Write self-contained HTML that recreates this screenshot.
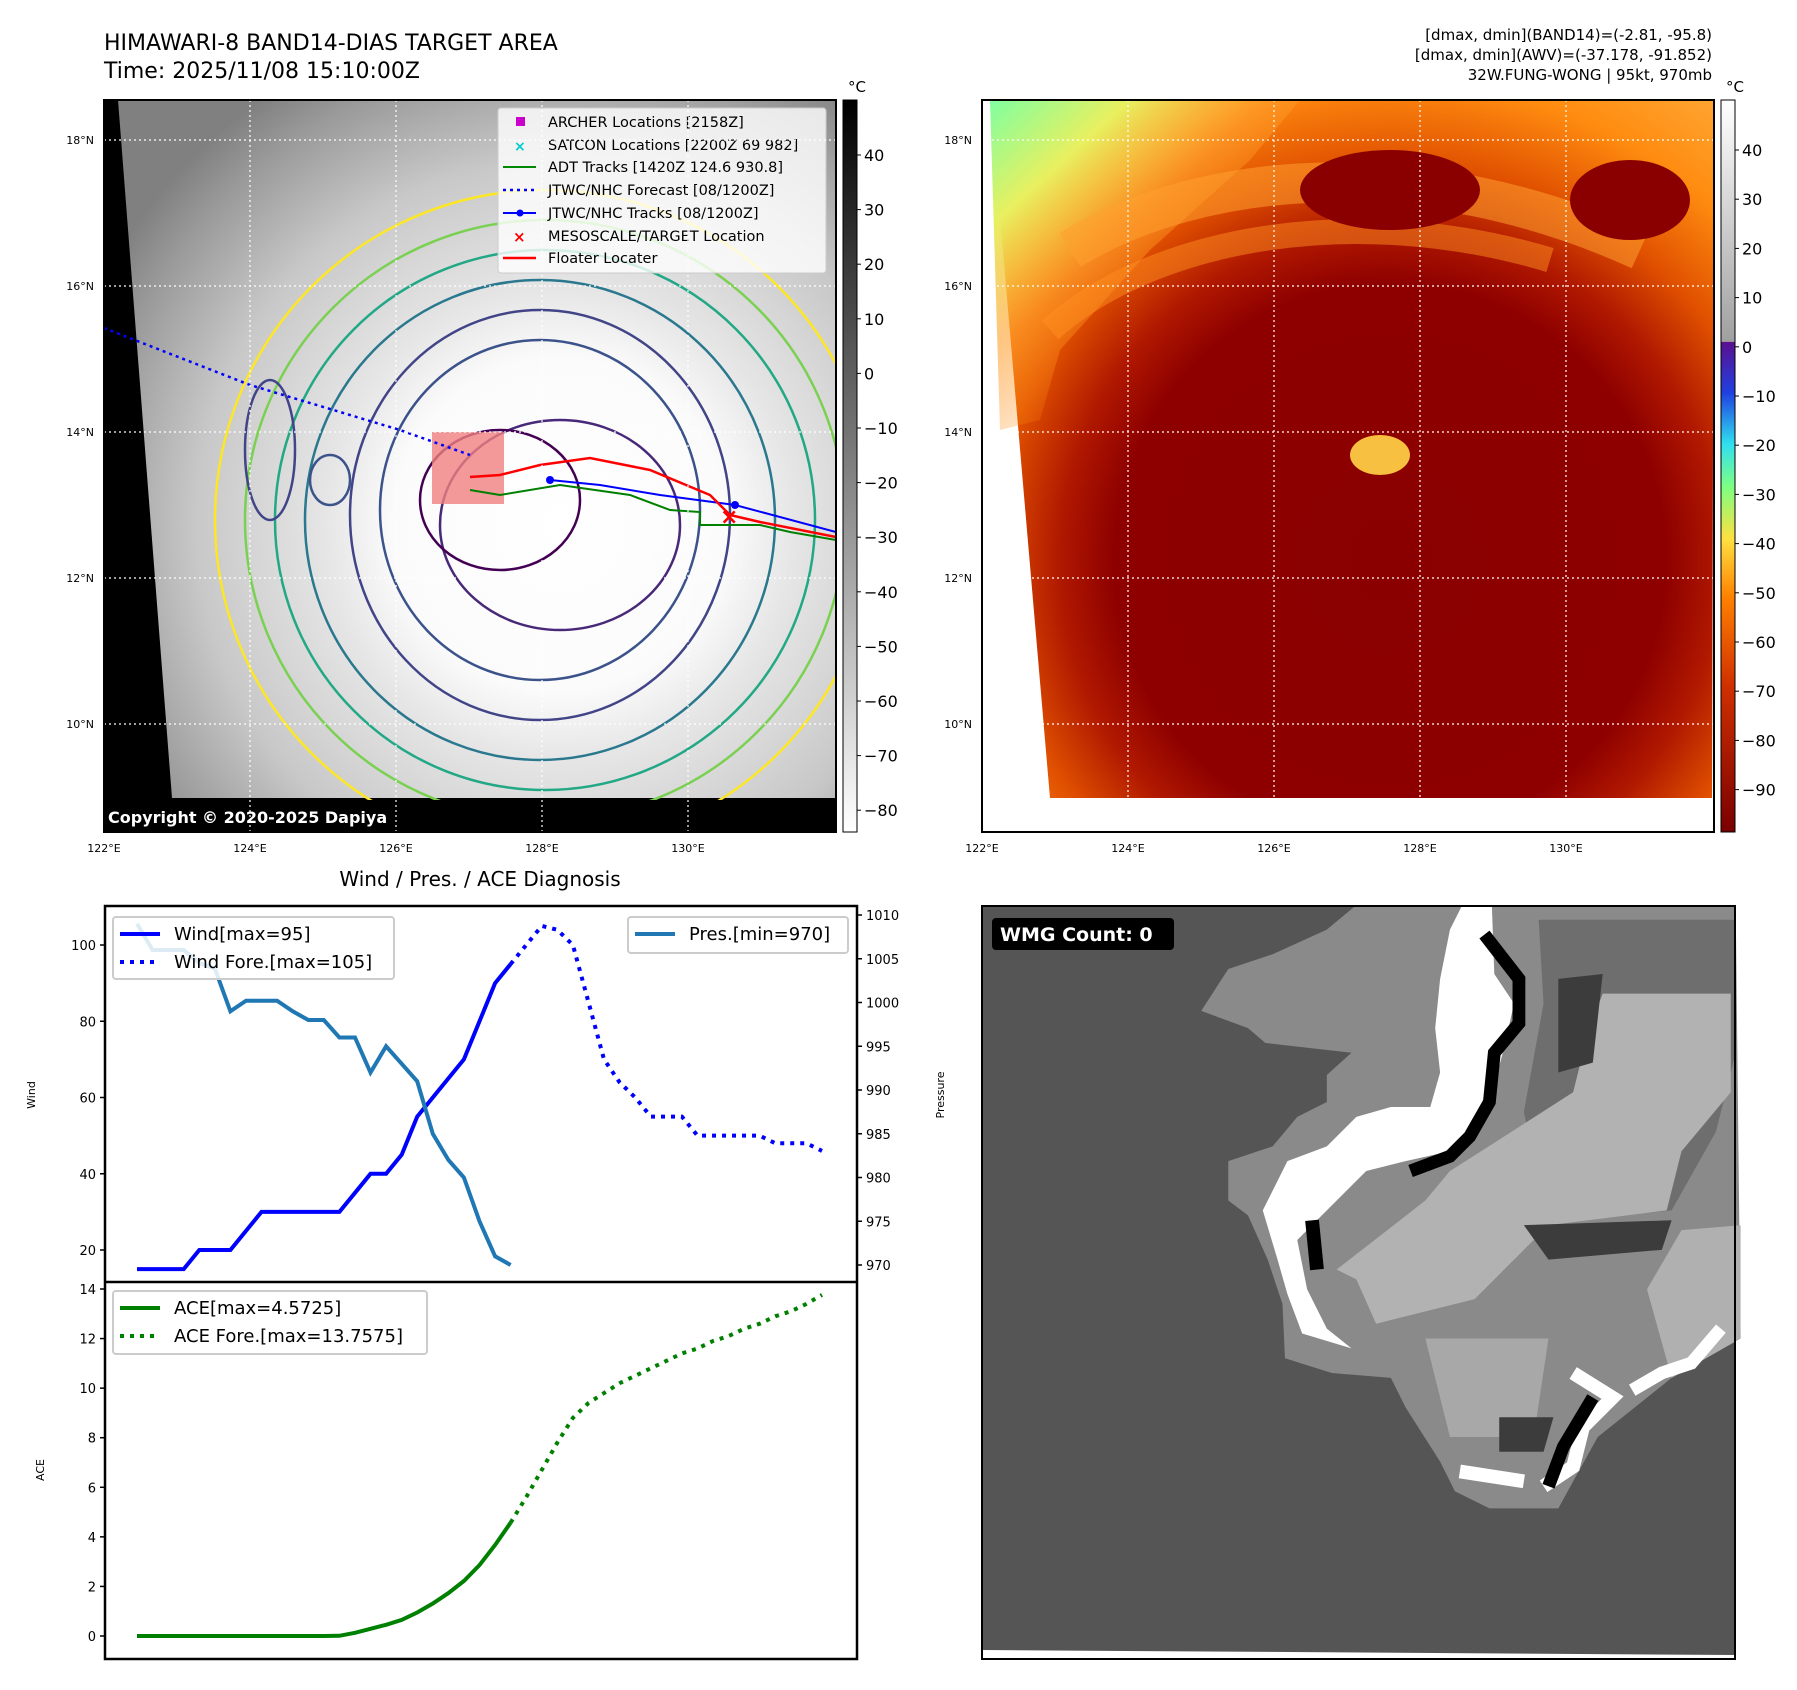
<!DOCTYPE html>
<html><head><meta charset="utf-8">
<style>
body{margin:0;background:#fff;font-family:"Liberation Sans","DejaVu Sans",sans-serif}
svg{display:block}
text{font-family:"DejaVu Sans","Liberation Sans",sans-serif}
</style></head>
<body>
<svg id="fig" width="1797" height="1690" viewBox="0 0 1797 1690" xmlns="http://www.w3.org/2000/svg">
<defs>
 <radialGradient id="irgrey" cx="560" cy="525" r="520" gradientUnits="userSpaceOnUse">
  <stop offset="0" stop-color="#ffffff"/><stop offset="0.32" stop-color="#fbfbfb"/>
  <stop offset="0.45" stop-color="#e6e6e6"/><stop offset="0.7" stop-color="#c8c8c8"/>
  <stop offset="0.9" stop-color="#9a9a9a"/><stop offset="1" stop-color="#808080"/>
 </radialGradient>
 <radialGradient id="irhot" cx="1390" cy="560" r="600" gradientUnits="userSpaceOnUse">
  <stop offset="0" stop-color="#8a0000"/><stop offset="0.46" stop-color="#8e0000"/>
  <stop offset="0.55" stop-color="#b01800"/><stop offset="0.66" stop-color="#e05000"/>
  <stop offset="0.8" stop-color="#ff8c10"/><stop offset="1" stop-color="#ffb040"/>
 </radialGradient>
 <linearGradient id="corner" x1="990" y1="100" x2="1200" y2="330" gradientUnits="userSpaceOnUse">
  <stop offset="0" stop-color="#7fffa0"/><stop offset="0.3" stop-color="#e8f060"/><stop offset="0.6" stop-color="#ffa030" stop-opacity="0.6"/><stop offset="1" stop-color="#ff8000" stop-opacity="0"/>
 </linearGradient>
 <linearGradient id="cbgrey" x1="0" y1="0" x2="0" y2="1">
  <stop offset="0" stop-color="#000"/><stop offset="1" stop-color="#fff"/>
 </linearGradient>
 <linearGradient id="cbhot" x1="0" y1="0" x2="0" y2="1">
  <stop offset="0" stop-color="#ffffff"/><stop offset="0.33" stop-color="#a0a0a0"/>
  <stop offset="0.331" stop-color="#5a1090"/><stop offset="0.4" stop-color="#2040e0"/>
  <stop offset="0.47" stop-color="#30e0f0"/><stop offset="0.53" stop-color="#80ff80"/>
  <stop offset="0.6" stop-color="#ffe040"/><stop offset="0.68" stop-color="#ff8000"/>
  <stop offset="0.8" stop-color="#d03000"/><stop offset="1" stop-color="#7a0000"/>
 </linearGradient>
 <clipPath id="clipL"><rect x="104" y="100" width="732" height="732"/></clipPath>
 <clipPath id="clipR"><rect x="982" y="100" width="732" height="732"/></clipPath>
</defs>

<!-- titles -->
<text x="104" y="50" font-size="22">HIMAWARI-8 BAND14-DIAS TARGET AREA</text>
<text x="104" y="78" font-size="22">Time: 2025/11/08 15:10:00Z</text>
<g font-size="15" text-anchor="end">
 <text x="1712" y="40">[dmax, dmin](BAND14)=(-2.81, -95.8)</text>
 <text x="1712" y="60">[dmax, dmin](AWV)=(-37.178, -91.852)</text>
 <text x="1712" y="80">32W.FUNG-WONG | 95kt, 970mb</text>
</g>

<!-- LEFT MAP -->
<g clip-path="url(#clipL)">
 <rect x="104" y="100" width="732" height="732" fill="#000"/>
 <polygon points="118,100 836,100 836,798 172,798" fill="url(#irgrey)"/>
 <g fill="none" stroke-width="2.5">
  <ellipse cx="545" cy="520" rx="330" ry="330" stroke="#fde725"/>
  <ellipse cx="545" cy="520" rx="300" ry="300" stroke="#7ad151"/>
  <ellipse cx="545" cy="520" rx="270" ry="270" stroke="#22a884"/>
  <ellipse cx="540" cy="520" rx="235" ry="240" stroke="#2a788e"/>
  <ellipse cx="540" cy="515" rx="190" ry="205" stroke="#414487"/>
  <ellipse cx="540" cy="510" rx="160" ry="170" stroke="#3b528b"/>
  <ellipse cx="560" cy="525" rx="120" ry="105" stroke="#482878"/>
  <ellipse cx="500" cy="500" rx="80" ry="70" stroke="#440154"/>
  <ellipse cx="270" cy="450" rx="25" ry="70" stroke="#414487"/>
  <ellipse cx="330" cy="480" rx="20" ry="25" stroke="#3b528b"/>
 </g>
 <rect x="432" y="432" width="72" height="72" fill="#f08080" opacity="0.8"/>
 <polyline points="104,328 250,385 400,430 470,455" fill="none" stroke="#00f" stroke-width="2.5" stroke-dasharray="3,4"/>
 <polyline points="550,480 600,485 660,495 735,505 836,532" fill="none" stroke="#00f" stroke-width="2"/>
 <circle cx="550" cy="480" r="4" fill="#00f"/><circle cx="735" cy="505" r="4" fill="#00f"/>
 <polyline points="470,490 500,495 560,485 630,495 670,510 700,512 700,525 760,525 790,532 836,540" fill="none" stroke="#008000" stroke-width="2"/>
 <polyline points="470,477 500,475 540,465 590,458 650,470 710,495 730,515 760,522 836,537" fill="none" stroke="#f00" stroke-width="2.5"/>
 <text x="720" y="524" fill="#f00" font-size="22" font-weight="bold">×</text>
 <!-- legend -->
 <rect x="498" y="108" width="328" height="165" fill="#fff" fill-opacity="0.8" stroke="#ccc" rx="3"/>
 <g font-size="14.5" fill="#000">
  <rect x="516" y="117" width="9" height="9" fill="#c0c"/><text x="548" y="127">ARCHER Locations [2158Z]</text>
  <text x="514" y="151" fill="#0cc" font-size="14" font-weight="bold">×</text><text x="548" y="150">SATCON Locations [2200Z 69 982]</text>
  <line x1="503" y1="167" x2="536" y2="167" stroke="#080" stroke-width="2"/><text x="548" y="172">ADT Tracks [1420Z 124.6 930.8]</text>
  <line x1="503" y1="190" x2="536" y2="190" stroke="#00f" stroke-width="2.5" stroke-dasharray="3,4"/><text x="548" y="195">JTWC/NHC Forecast [08/1200Z]</text>
  <line x1="503" y1="213" x2="536" y2="213" stroke="#00f" stroke-width="2"/><circle cx="520" cy="213" r="3.5" fill="#00f"/><text x="548" y="218">JTWC/NHC Tracks [08/1200Z]</text>
  <text x="513" y="242" fill="#f00" font-size="15" font-weight="bold">×</text><text x="548" y="241">MESOSCALE/TARGET Location</text>
  <line x1="503" y1="258" x2="536" y2="258" stroke="#f00" stroke-width="2.5"/><text x="548" y="263">Floater Locater</text>
 </g>
 <rect x="104" y="800" width="732" height="32" fill="#000"/>
 <text x="108" y="823" fill="#fff" font-size="16" font-weight="bold">Copyright © 2020-2025 Dapiya</text>
</g>
<g stroke="#fff" stroke-width="1.2" stroke-dasharray="2,3" clip-path="url(#clipL)">
 <line x1="104" y1="140" x2="836" y2="140"/><line x1="104" y1="286" x2="836" y2="286"/><line x1="104" y1="432" x2="836" y2="432"/><line x1="104" y1="578" x2="836" y2="578"/><line x1="104" y1="724" x2="836" y2="724"/>
 <line x1="250" y1="100" x2="250" y2="832"/><line x1="396" y1="100" x2="396" y2="832"/><line x1="542" y1="100" x2="542" y2="832"/><line x1="688" y1="100" x2="688" y2="832"/>
</g>
<rect x="104" y="100" width="732" height="732" fill="none" stroke="#000" stroke-width="2"/>
<g font-size="11">
 <text x="94" y="144" text-anchor="end">18°N</text><text x="94" y="290" text-anchor="end">16°N</text><text x="94" y="436" text-anchor="end">14°N</text><text x="94" y="582" text-anchor="end">12°N</text><text x="94" y="728" text-anchor="end">10°N</text>
 <text x="104" y="852" text-anchor="middle">122°E</text><text x="250" y="852" text-anchor="middle">124°E</text><text x="396" y="852" text-anchor="middle">126°E</text><text x="542" y="852" text-anchor="middle">128°E</text><text x="688" y="852" text-anchor="middle">130°E</text>
</g>
<rect x="843" y="100" width="14" height="732" fill="url(#cbgrey)" stroke="#000"/>
<text x="857" y="92" font-size="15" text-anchor="middle">°C</text>
<g id="cbL" font-size="16"></g>

<!-- RIGHT MAP -->
<g clip-path="url(#clipR)">
 <rect x="982" y="100" width="732" height="732" fill="#fff"/>
 <polygon points="990,100 1714,100 1714,107 1712,798 1050,798" fill="url(#irhot)"/>
 <polygon points="990,100 1300,100 1250,160 1150,250 1060,350 1040,420 1000,430" fill="url(#corner)"/>
 <path d="M1070,250 C1200,170 1420,150 1640,250" fill="none" stroke="#ffa030" stroke-width="40" opacity="0.55"/>
 <path d="M1050,330 C1150,240 1350,200 1550,260" fill="none" stroke="#ff9020" stroke-width="25" opacity="0.5"/>
 <ellipse cx="1390" cy="190" rx="90" ry="40" fill="#8a0000"/>
 <ellipse cx="1630" cy="200" rx="60" ry="40" fill="#8a0000"/>
 <ellipse cx="1380" cy="455" rx="30" ry="20" fill="#f8c040"/>
</g>
<g stroke="#fff" stroke-width="1.2" stroke-dasharray="2,3" clip-path="url(#clipR)">
 <line x1="982" y1="140" x2="1714" y2="140"/><line x1="982" y1="286" x2="1714" y2="286"/><line x1="982" y1="432" x2="1714" y2="432"/><line x1="982" y1="578" x2="1714" y2="578"/><line x1="982" y1="724" x2="1714" y2="724"/>
 <line x1="1128" y1="100" x2="1128" y2="832"/><line x1="1274" y1="100" x2="1274" y2="832"/><line x1="1420" y1="100" x2="1420" y2="832"/><line x1="1566" y1="100" x2="1566" y2="832"/>
</g>
<rect x="982" y="100" width="732" height="732" fill="none" stroke="#000" stroke-width="2"/>
<g font-size="11">
 <text x="972" y="144" text-anchor="end">18°N</text><text x="972" y="290" text-anchor="end">16°N</text><text x="972" y="436" text-anchor="end">14°N</text><text x="972" y="582" text-anchor="end">12°N</text><text x="972" y="728" text-anchor="end">10°N</text>
 <text x="982" y="852" text-anchor="middle">122°E</text><text x="1128" y="852" text-anchor="middle">124°E</text><text x="1274" y="852" text-anchor="middle">126°E</text><text x="1420" y="852" text-anchor="middle">128°E</text><text x="1566" y="852" text-anchor="middle">130°E</text>
</g>
<rect x="1721" y="100" width="14" height="732" fill="url(#cbhot)" stroke="#000"/>
<text x="1735" y="92" font-size="15" text-anchor="middle">°C</text>
<g id="cbR" font-size="16"></g>

<!-- DIAGNOSIS CHART -->
<text x="480" y="886" font-size="20" text-anchor="middle">Wind / Pres. / ACE Diagnosis</text>
<g id="chart"></g>

<!-- WMG PANEL -->
<g>
 <rect x="982" y="906" width="753" height="753" fill="#fff"/>
 <polygon points="982,906 1735,906 1735,1655 982,1650" fill="#555"/>
 <g transform="translate(982,905) scale(0.4926)">
  <polygon points="760,0 1530,0 1540,880 1400,960 1250,1080 1200,1170 1170,1225 1030,1225 960,1190 930,1130 860,1020 830,960 710,950 615,920 610,810 580,720 540,630 500,600 500,520 590,490 640,430 700,400 700,345 750,300 575,280 540,250 445,215 500,130 590,100 700,50" fill="#8a8a8a"/>
  <polygon points="1130,30 1530,30 1530,300 1490,460 1400,620 1200,640 1130,560 1100,420 1140,200" fill="#6e6e6e"/>
  <polygon points="1260,180 1520,180 1520,380 1420,500 1390,620 1150,650 1100,700 1000,800 800,850 760,760 720,740 900,600 950,540 1060,470 1200,380 1230,260" fill="#b2b2b2"/>
  <polygon points="1100,650 1400,640 1380,700 1150,720" fill="#3c3c3c"/>
  <polygon points="1170,150 1260,140 1240,320 1170,340" fill="#3c3c3c"/>
  <polygon points="1420,660 1540,650 1540,880 1400,960 1350,780" fill="#b0b0b0"/>
  <polygon points="900,880 1150,880 1120,1080 950,1080" fill="#a8a8a8"/>
  <polygon points="1050,1040 1160,1040 1140,1110 1050,1110" fill="#3c3c3c"/>
  <polygon points="975,0 1035,0 1040,140 1080,200 1060,290 1030,400 1000,460 950,500 860,520 780,540 700,620 640,680 660,780 700,860 750,900 650,870 620,790 600,720 570,620 620,520 700,490 760,430 830,410 910,410 930,340 920,250 930,150 950,50" fill="#fff"/>
  <polyline points="1020,60 1090,150 1090,240 1040,300 1030,400 990,470 950,510 870,540" fill="none" stroke="#000" stroke-width="26"/>
  <polyline points="670,640 680,740" fill="none" stroke="#000" stroke-width="28"/>
  <polyline points="1200,950 1280,1000 1220,1060 1200,1140 1140,1180" fill="none" stroke="#fff" stroke-width="28"/>
  <polyline points="1240,1000 1180,1100 1150,1180" fill="none" stroke="#000" stroke-width="26"/>
  <polyline points="1500,860 1440,930 1380,950 1320,985" fill="none" stroke="#fff" stroke-width="26"/>
  <polyline points="970,1150 1100,1170" fill="none" stroke="#fff" stroke-width="28"/>
 </g>
 <rect x="982" y="906" width="753" height="753" fill="none" stroke="#000" stroke-width="2"/>
 <rect x="992" y="918" width="182" height="32" rx="4" fill="#000"/>
 <text x="1000" y="941" fill="#fff" font-size="19" font-weight="bold">WMG Count: 0</text>
</g>
</svg>

<script>
const NS='http://www.w3.org/2000/svg';
function mk(parent,tag,attrs,txt){const e=document.createElementNS(NS,tag);for(const k in attrs)e.setAttribute(k,attrs[k]);if(txt!==undefined)e.textContent=txt;parent.appendChild(e);return e;}

// colorbar ticks
const cbLeftTicks=[40,30,20,10,0,-10,-20,-30,-40,-50,-60,-70,-80];
const cbRightTicks=[40,30,20,10,0,-10,-20,-30,-40,-50,-60,-70,-80,-90];
const cbL=document.getElementById('cbL');
cbLeftTicks.forEach(v=>{const y=155+(40-v)*5.46;
 mk(cbL,'line',{x1:857,x2:861,y1:y,y2:y,stroke:'#000'});
 const t=mk(cbL,'text',{x:864,y:y+6},(v<0?'\u2212'+(-v):v));
 
 });
const cbR=document.getElementById('cbR');
cbRightTicks.forEach(v=>{const y=150+(40-v)*4.92;
 mk(cbR,'line',{x1:1735,x2:1739,y1:y,y2:y,stroke:'#000'});
 const t=mk(cbR,'text',{x:1742,y:y+6},(v<0?'\u2212'+(-v):v));
 
 });

// chart data
const windObs=[15,15,15,15,20,20,20,25,30,30,30,30,30,30,35,40,40,45,55,60,65,70,80,90,95];
const windFore=[95,100,105,104,100,85,70,64,60,55,55,55,50,50,50,50,50,48,48,48,46];
const presObs=[1009,1006,1006,1006,1004.5,1003.9,999,1000.2,1000.2,1000.2,999,998,998,996,996,992,995,993,991,985,982,980,975,971,970];
const aceObs=[0,0,0,0,0,0,0,0,0,0,0,0,0,0.01,0.13,0.29,0.45,0.65,0.95,1.31,1.73,2.22,2.86,3.67,4.57];
const aceFore=[4.57,5.6,6.7,7.8,8.8,9.4,9.8,10.2,10.5,10.8,11.1,11.4,11.6,11.9,12.1,12.4,12.6,12.9,13.1,13.4,13.76];
const windTicks=[20,40,60,80,100];
const presTicks=[970,975,980,985,990,995,1000,1005,1010];
const aceTicks=[0,2,4,6,8,10,12,14];

const X0=105,X1=857,T=906,MID=1282,B=1659;
const xs=i=>137+i*(822-137)/44;
const yW=v=>945+(100-v)*(1250-945)/80;
const yP=v=>1265-(v-970)*(1265-915)/40;
const yA=v=>1636-v*(1636-1289)/14;
const g=document.getElementById('chart');
function axisLeft(ticks,fy,name){ticks.forEach(v=>{const y=fy(v);mk(g,'line',{x1:X0-5,x2:X0,y1:y,y2:y,stroke:'#000','stroke-width':1.5});
 const t=mk(g,'text',{x:X0-9,y:y+5,'font-size':13,'text-anchor':'end'},v);
 
 });}
axisLeft(windTicks,yW,'wind-tick-label');axisLeft(aceTicks,yA,'ace-tick-label');
presTicks.forEach(v=>{const y=yP(v);mk(g,'line',{x1:X1,x2:X1+5,y1:y,y2:y,stroke:'#000','stroke-width':1.5});
 const t=mk(g,'text',{x:X1+9,y:y+5,'font-size':13},v);
 
 });
let t;
t=mk(g,'text',{x:0,y:0,'font-size':11,transform:'translate(35,1095) rotate(-90)','text-anchor':'middle'},'Wind');

t=mk(g,'text',{x:0,y:0,'font-size':11,transform:'translate(944,1095) rotate(-90)','text-anchor':'middle'},'Pressure');

t=mk(g,'text',{x:0,y:0,'font-size':11,transform:'translate(44,1470) rotate(-90)','text-anchor':'middle'},'ACE');


function line(arr,off,fy,color,dash,name){const pts=arr.map((v,i)=>xs(i+off).toFixed(1)+','+fy(v).toFixed(1)).join(' ');
 const p=mk(g,'polyline',{points:pts,fill:'none',stroke:color,'stroke-width':4,'stroke-dasharray':dash||'none'});
 }
line(windObs,0,yW,'#0000ff',null,'wind-line');
line(windFore,24,yW,'#0000ff','4,6','wind-forecast-line');
line(presObs,0,yP,'#1f77b4',null,'pressure-line');
line(aceObs,0,yA,'#008000',null,'ace-line');
line(aceFore,24,yA,'#008000','4,6','ace-forecast-line');

mk(g,'rect',{x:X0,y:T,width:X1-X0,height:B-T,fill:'none',stroke:'#000','stroke-width':2.5});
mk(g,'line',{x1:X0,x2:X1,y1:MID,y2:MID,stroke:'#000','stroke-width':2.5});
// legends
function legend(x,y,w,h,items,name){const lg=mk(g,'g',{});
 mk(lg,'rect',{x:x,y:y,width:w,height:h,fill:'#fff','fill-opacity':0.85,stroke:'#ccc','stroke-width':2,rx:3});
 items.forEach((it,i)=>{const yy=y+17+i*28;mk(lg,'line',{x1:x+7,x2:x+47,y1:yy,y2:yy,stroke:it[1],'stroke-width':4,'stroke-dasharray':it[2]||'none'});
  mk(lg,'text',{x:x+61,y:yy+6,'font-size':18},it[0]);});}
legend(113,917,281,62,[['Wind[max=95]','#0000ff'],['Wind Fore.[max=105]','#0000ff','4,6']],'wind-legend');
legend(628,917,220,36,[['Pres.[min=970]','#1f77b4']],'pressure-legend');
legend(113,1291,314,63,[['ACE[max=4.5725]','#008000'],['ACE Fore.[max=13.7575]','#008000','4,6']],'ace-legend');
</script>
</body></html>
